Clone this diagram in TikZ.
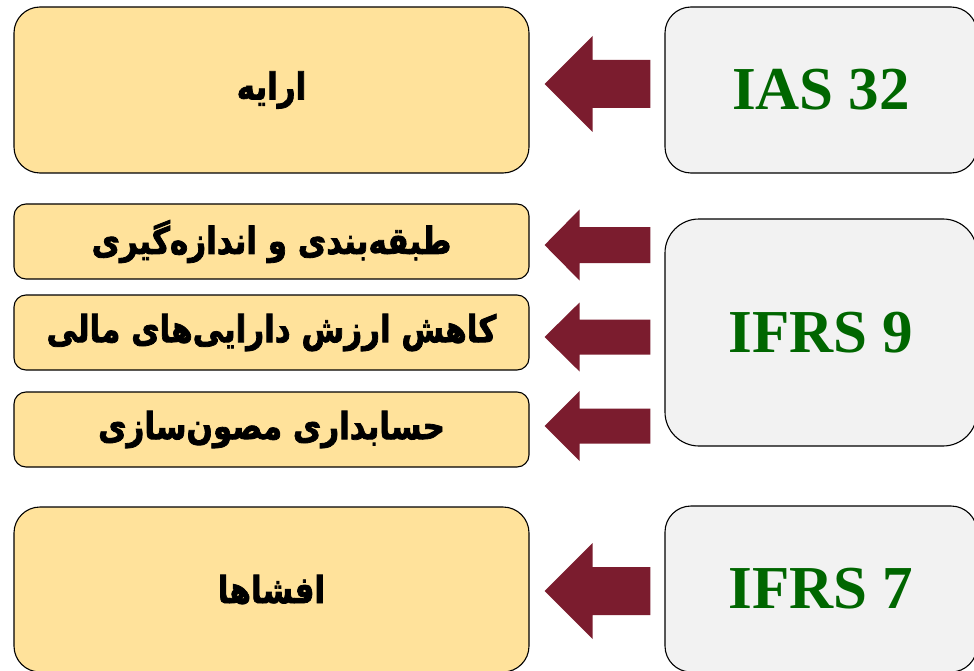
\documentclass[tikz,border=0pt]{standalone}
\usepackage{fontspec}
\usetikzlibrary{calc}
\TeXXeTstate=1
\newfontfamily\fa[Script=Arabic,FakeBold=2.2]{DejaVu Sans Bold}
\newfontfamily\en{Liberation Serif}
\definecolor{boxy}{HTML}{FFE29B}
\definecolor{boxg}{HTML}{F2F2F2}
\definecolor{arr}{HTML}{7B1C2E}
\definecolor{stdg}{HTML}{006600}
\newcommand{\fatext}[1]{\scalebox{1}[1.2]{\beginR #1\endR}}
\newcommand{\entext}[1]{\raisebox{-2pt}{#1}}
\begin{document}
\begin{tikzpicture}[x=1pt,y=-1pt,
  base/.style={draw=black, line width=1.1pt, inner sep=0pt, anchor=center},
  lbox/.style={base, fill=boxy, minimum width=515pt, rounded corners=#1, font=\fa\fontsize{31}{36}\selectfont},
  rbox/.style={base, fill=boxg, minimum width=312pt, rounded corners=#1, text=stdg, font=\en\bfseries\fontsize{61}{66}\selectfont},
  arrowfill/.style={fill=arr}]
\clip (0,0) rectangle (974,671);
\fill[white] (0,0) rectangle (974,671);

\node[lbox=26pt, minimum height=166pt] (l1) at (271.5,90) {\fatext{ارایه}};
\node[lbox=12pt, minimum height=75pt] (l2) at (271.5,241.5) {\fatext{طبقه‌بندی و اندازه‌گیری}};
\node[lbox=12pt, minimum height=75pt] (l3) at (271.5,332.5) {\fatext{کاهش ارزش دارایی‌های مالی}};
\node[lbox=12pt, minimum height=75pt] (l4) at (271.5,429.5) {\fatext{حسابداری مصون‌سازی}};
\node[lbox=26pt, minimum height=165pt] (l5) at (271.5,589.5) {\fatext{افشاها}};

\node[rbox=26pt, minimum height=166pt] (r1) at (821,90) {\entext{IAS 32}};
\node[rbox=34pt, minimum height=227pt] (r2) at (821,332.5) {\entext{IFRS 9}};
\node[rbox=26pt, minimum height=166pt] (r3) at (821,589) {\entext{IFRS 7}};

% block arrows: #1 source box, #2 target box, #3 y offset, #4 head length, #5 head half, #6 shaft half
\newcommand{\blockarrow}[6]{%
  \coordinate (tip) at ($(#2.east)+(15,#3)$);
  \coordinate (tail) at ($(#1.west |- tip)+(-14,0)$);
  \fill[arrowfill] (tip) -- ($(tip)+(#4,-#5)$) -- ($(tip)+(#4,-#6)$) -- ($(tail)+(0,-#6)$)
    -- ($(tail)+(0,#6)$) -- ($(tip)+(#4,#6)$) -- ($(tip)+(#4,#5)$) -- cycle;}
\blockarrow{r1}{l1}{-6}{48}{48}{24}
\blockarrow{r2}{l2}{3.5}{35}{35.5}{18}
\blockarrow{r2}{l3}{4.5}{35}{34.5}{17.5}
\blockarrow{r2}{l4}{-3.5}{35}{35}{17.5}
\blockarrow{r3}{l5}{1.5}{48}{48}{24}
\end{tikzpicture}
\end{document}
